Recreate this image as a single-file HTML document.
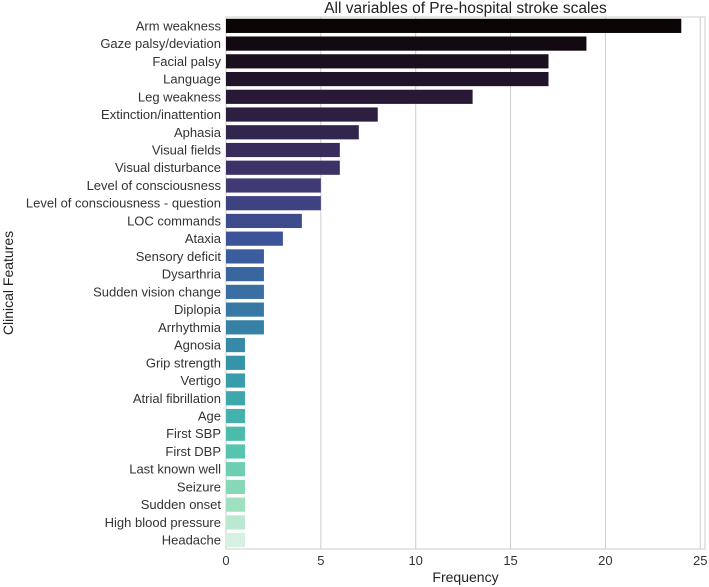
<!DOCTYPE html>
<html><head><meta charset="utf-8">
<style>
html,body{margin:0;padding:0;background:#fff;}
svg{display:block;font-family:"Liberation Sans","DejaVu Sans",sans-serif;}
</style></head>
<body>
<svg id="chart" width="709" height="587" viewBox="0 0 709 587"></svg>
<script>
const categories=["Arm weakness","Gaze palsy/deviation","Facial palsy","Language","Leg weakness","Extinction/inattention","Aphasia","Visual fields","Visual disturbance","Level of consciousness","Level of consciousness - question","LOC commands","Ataxia","Sensory deficit","Dysarthria","Sudden vision change","Diplopia","Arrhythmia","Agnosia","Grip strength","Vertigo","Atrial fibrillation","Age","First SBP","First DBP","Last known well","Seizure","Sudden onset","High blood pressure","Headache"];
const values=[24,19,17,17,13,8,7,6,6,5,5,4,3,2,2,2,2,2,1,1,1,1,1,1,1,1,1,1,1,1];
const xTicks=[0,5,10,15,20,25];

const NS="http://www.w3.org/2000/svg";
const svg=document.getElementById('chart');
const L=226,R=705,T=17,B=549,xMax=25.25;
const xs=v=>L+(v/xMax)*(R-L);
const band=(B-T)/categories.length;
const ys=i=>T+band*i;
const stops=[[0,[11,4,5]],[0.15,[42,27,58]],[0.3,[64,55,112]],[0.42,[60,85,155]],[0.55,[56,120,165]],[0.68,[53,154,170]],[0.82,[80,195,173]],[0.92,[150,222,188]],[1,[214,240,225]]];
function col(t){for(let k=1;k<stops.length;k++){if(t<=stops[k][0]){const a=stops[k-1],b=stops[k];const f=(t-a[0])/(b[0]-a[0]);return 'rgb('+a[1].map((c,j)=>Math.round(c+(b[1][j]-c)*f)).join(',')+')';}}return 'rgb(214,240,225)';}
function mk(tag,attrs,parent){const e=document.createElementNS(NS,tag);for(const k in attrs)e.setAttribute(k,attrs[k]);(parent||svg).appendChild(e);return e;}

xTicks.forEach(t=>{
  const g=mk('line',{x1:xs(t),x2:xs(t),y1:T,y2:B,stroke:'#cccccc','stroke-width':1});
  
  
  const tl=mk('text',{x:xs(t),y:B+16,'text-anchor':'middle','font-size':13,fill:'#333'});
  tl.textContent=t;
  
  
});
const frame=mk('rect',{x:L,y:T,width:R-L,height:B-T,fill:'none',stroke:'#cccccc','stroke-width':1});



categories.forEach((c,i)=>{
  const h=band*0.8;
  const r=mk('rect',{x:xs(0),y:ys(i)+(band-h)/2,width:xs(values[i])-xs(0),height:h,fill:col(i/(categories.length-1))});
  
  
  const t=mk('text',{x:L-5,y:ys(i)+band/2+4.5,'text-anchor':'end','font-size':13,fill:'#333'});
  t.textContent=c;
  
  
});
const title=mk('text',{x:(L+R)/2,y:13,'text-anchor':'middle','font-size':15.5,fill:'#222'});
title.textContent='All variables of Pre-hospital stroke scales';


const xl=mk('text',{x:(L+R)/2,y:582,'text-anchor':'middle','font-size':14,fill:'#222'});
xl.textContent='Frequency';


const yl=mk('text',{x:0,y:0,'text-anchor':'middle','font-size':14,fill:'#222',transform:'translate(13,283) rotate(-90)'});
yl.textContent='Clinical Features';


</script>
</body></html>
